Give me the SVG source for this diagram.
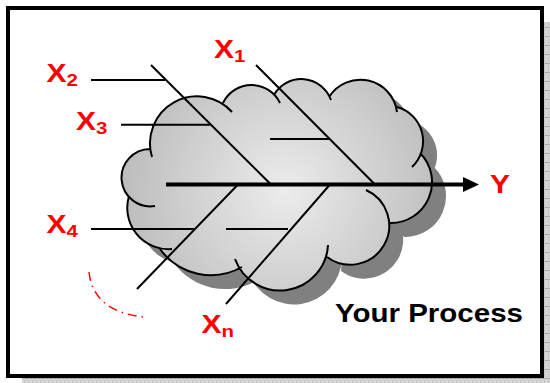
<svg xmlns="http://www.w3.org/2000/svg" width="550" height="383" viewBox="0 0 550 383">
  <defs>
    <pattern id="hatch" width="4" height="9" patternUnits="userSpaceOnUse">
      <rect width="4" height="9" fill="#d6d6d6"/>
      <path d="M0 0.5H4" stroke="#a4a4a4" stroke-width="1"/>
      <path d="M0.5 0V9" stroke="#c6c6c6" stroke-width="1"/>
    </pattern>
    <radialGradient id="cloudGrad" gradientUnits="userSpaceOnUse" cx="285" cy="190" r="165">
      <stop offset="0" stop-color="#ececec"/>
      <stop offset="1" stop-color="#bcbcbc"/>
    </radialGradient>
    <path id="cloudFill" d="M155,206 A28.7,28.7 0 1 1 150,149 L152,157 A47,47 0 0 1 232,112 L223,103 A31.6,31.6 0 0 1 280,103 L274,95 A31.5,31.5 0 0 1 331,100 L329,97 A37,37 0 0 1 397,112 L397,107 A35.5,35.5 0 0 1 412,167 L420,153 A41,41 0 0 1 390,223 L366,190 A39,39 0 1 1 327,257 L328,245 A48,48 0 0 1 235,259 L242,267 A63,63 0 0 1 160,249 L172,249 A41.3,41.3 0 0 1 129,196 Z"/>
  </defs>
  <style>
    .bone { stroke: #000; stroke-width: 2; fill: none; }
    .outline { stroke: #000; stroke-width: 2; fill: none; }
    .lbl { font-family: "Liberation Sans", Arial, sans-serif; font-weight: bold; font-size: 25px; fill: #ff0000; }
    .sub { font-size: 17px; }
    .title { font-family: "Liberation Sans", Arial, sans-serif; font-weight: bold; font-size: 26px; fill: #000; }
  </style>

  <g id="frame">
    <rect x="22" y="22" width="528" height="361" fill="url(#hatch)"/>
    <rect x="8" y="8" width="534" height="368" fill="#fff" stroke="#000" stroke-width="4"/>
  </g>

  <g id="cloud">
    <use href="#cloudFill" transform="translate(14,14)" fill="#808080"/>
    <use href="#cloudFill" fill="url(#cloudGrad)"/>
    <path class="outline" d="M155,206 A28.7,28.7 0 1 1 150,149 M152,157 A47,47 0 0 1 232,112 M223,103 A31.6,31.6 0 0 1 280,103 M274,95 A31.5,31.5 0 0 1 331,100 M329,97 A37,37 0 0 1 397,112 M397,107 A35.5,35.5 0 0 1 412,167 M420,153 A41,41 0 0 1 390,223 M366,190 A39,39 0 1 1 327,257 M328,245 A48,48 0 0 1 235,259 M242,267 A63,63 0 0 1 160,249 M172,249 A41.3,41.3 0 0 1 129,196"/>
  </g>

  <g id="connectors">
    <line class="bone" x1="151" y1="65" x2="271" y2="184.5"/>
    <line class="bone" x1="256" y1="65" x2="375" y2="184.5"/>
    <line class="bone" x1="238" y1="184.5" x2="137" y2="289"/>
    <line class="bone" x1="330" y1="184.5" x2="226" y2="304"/>
    <line class="bone" x1="91" y1="80" x2="165" y2="80"/>
    <line class="bone" x1="121" y1="124.7" x2="210" y2="124.7"/>
    <line class="bone" x1="270" y1="139" x2="330" y2="139"/>
    <line class="bone" x1="91" y1="229" x2="195" y2="229"/>
    <line class="bone" x1="226" y1="229" x2="288" y2="229"/>
    <line x1="166" y1="184.5" x2="465" y2="184.5" stroke="#000" stroke-width="4"/>
    <polygon points="463,177 479,184.5 463,192" fill="#000"/>
    <path d="M89,272 Q93,311 143,317" fill="none" stroke="#ff0000" stroke-width="1.5" stroke-dasharray="9 5 1.5 5"/>
  </g>

  <g id="label-x1"><text class="lbl" transform="translate(214,58.3) scale(1.2,1)">X<tspan class="sub" dy="4">1</tspan></text></g>
  <g id="label-x2"><text class="lbl" transform="translate(46.5,81.7) scale(1.2,1)">X<tspan class="sub" dy="4">2</tspan></text></g>
  <g id="label-x3"><text class="lbl" transform="translate(76,130) scale(1.2,1)">X<tspan class="sub" dy="4">3</tspan></text></g>
  <g id="label-x4"><text class="lbl" transform="translate(46.5,233) scale(1.2,1)">X<tspan class="sub" dy="4">4</tspan></text></g>
  <g id="label-xn"><text class="lbl" transform="translate(201.5,333) scale(1.2,1)">X<tspan class="sub" dy="4">n</tspan></text></g>
  <g id="label-y"><text class="lbl" transform="translate(490,193) scale(1.2,1)">Y</text></g>
  <g id="label-process"><text class="title" x="335" y="322" textLength="188" lengthAdjust="spacingAndGlyphs">Your Process</text></g>
</svg>
